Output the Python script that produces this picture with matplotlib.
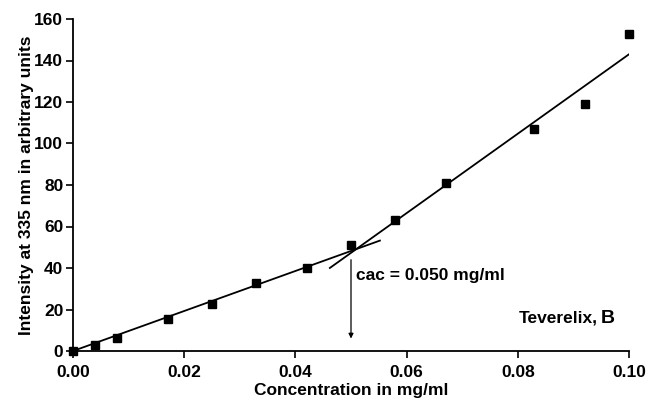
import numpy as np
import matplotlib
matplotlib.use("Agg")
import matplotlib.pyplot as plt

plt.rcParams['font.family'] = ['Liberation Sans', 'DejaVu Sans']
plt.rcParams['font.weight'] = 'bold'

# measured points
conc = [0.000, 0.004, 0.008, 0.017, 0.025, 0.033, 0.042, 0.050,
        0.058, 0.067, 0.083, 0.092, 0.100]
intensity = [0, 3, 6.5, 15.5, 22.5, 33, 40, 51, 63, 81, 107, 119, 153]

# the two straight fits (slope, intercept, x range)
fit_low = (964, 0.0, 0.0, 0.0552)
fit_high = (1914, -48.4, 0.0462, 0.100)

cac = 0.050
x_ticks = [0.00, 0.02, 0.04, 0.06, 0.08, 0.10]
y_ticks = [0, 20, 40, 60, 80, 100, 120, 140, 160]

fig = plt.figure(figsize=(6.47, 3.99), dpi=100)
ax = fig.add_axes([73 / 647, 1 - 351 / 399, 556 / 647, 332 / 399])

for slope, icpt, x0, x1 in (fit_low, fit_high):
    xs = np.array([x0, x1])
    ax.plot(xs, slope * xs + icpt, color='black', lw=1.3, zorder=2)

ax.plot(conc, intensity, 's', color='black', ms=6.3, zorder=3, clip_on=False)

ax.annotate('', xy=(cac, 6), xytext=(cac, 44),
            arrowprops=dict(arrowstyle='-|>', color='black', lw=0.9,
                            mutation_scale=7, shrinkA=0, shrinkB=0))
ax.text(cac + 0.0009, 36.5, 'cac = 0.050 mg/ml', fontsize=12.5, fontweight='bold',
        va='center', ha='left')
ax.text(0.0943, 13.5, 'Teverelix,', fontsize=12.5, fontweight='bold', ha='right',
        va='baseline')
ax.text(0.0975, 13.5, 'B', fontsize=14, fontweight='bold', ha='right', va='baseline')

ax.set_xlim(0, 0.10)
ax.set_ylim(0, 160)
ax.set_xticks(x_ticks)
ax.set_xticklabels(['%.2f' % v for v in x_ticks])
ax.set_yticks(y_ticks)
ax.tick_params(labelsize=12.5, width=1.2, length=5, direction='out')
ax.tick_params(axis='x', pad=5)
ax.tick_params(axis='y', pad=2)
for lbl in ax.get_xticklabels() + ax.get_yticklabels():
    lbl.set_fontweight('bold')

ax.spines['top'].set_visible(False)
ax.spines['right'].set_visible(False)
ax.spines['left'].set_linewidth(1.3)
ax.spines['bottom'].set_linewidth(1.3)

ax.set_xlabel('Concentration in mg/ml', fontsize=12.5, fontweight='bold', labelpad=2)
ax.set_ylabel('Intensity at 335 nm in arbitrary units', fontsize=12.5,
              fontweight='bold', va='center')
ax.yaxis.set_label_coords(-46 / 556, 0.5)

fig.savefig('out.png', dpi=100)
